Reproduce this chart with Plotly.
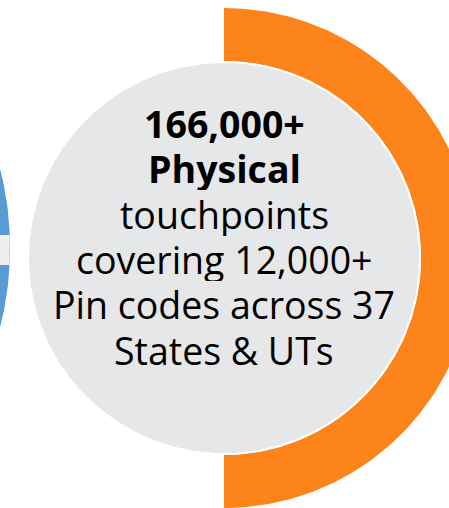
import numpy as np
import plotly.graph_objects as go

# ---- data ----
headline = ["166,000+", "Physical"]
body_lines = ["touchpoints", "covering 12,000+", "Pin codes across 37", "States & UTs"]
ring_share = [50]          # percent of the ring that is filled (orange)
ring_colors = ["#FD841A"]
W, H = 449, 508

# geometry (pixel space of the page)
cx, cy = 224, 258
r_in, r_out = 197, 250
circle_r = 196

fig = go.Figure()

# left partial blue ring (neighbouring graphic)
bcx, bcy, br = -315, 248, 325
t = np.linspace(-np.pi / 2, np.pi / 2, 200)
fig.add_trace(go.Scatter(x=bcx + br * np.cos(t), y=bcy + br * np.sin(t), fill="toself",
                         fillcolor="#5B9BD5", line=dict(width=0), mode="lines",
                         hoverinfo="skip", showlegend=False))
# grey connector bar inside blue
ys = np.array([235, 265])
xe = bcx + np.sqrt(br**2 - (ys - bcy) ** 2)
fig.add_trace(go.Scatter(x=[-5, xe[0], xe[1], -5], y=[235, 235, 265, 265], fill="toself",
                         fillcolor="#EFEFEF", line=dict(width=0), mode="lines",
                         hoverinfo="skip", showlegend=False))

# orange half ring from share value
span = ring_share[0] / 100 * 2 * np.pi
a = np.linspace(-np.pi / 2, -np.pi / 2 + span, 300)
xs = np.concatenate([cx + r_out * np.cos(a), cx + r_in * np.cos(a[::-1])])
yv = np.concatenate([cy + r_out * np.sin(a), cy + r_in * np.sin(a[::-1])])
fig.add_trace(go.Scatter(x=xs, y=yv, fill="toself", fillcolor=ring_colors[0],
                         line=dict(width=0), mode="lines", hoverinfo="skip", showlegend=False))

# grey centre circle
c = np.linspace(0, 2 * np.pi, 400)
fig.add_trace(go.Scatter(x=cx + circle_r * np.cos(c), y=cy + circle_r * np.sin(c), fill="toself",
                         fillcolor="#E6E7E8", line=dict(width=2, color="white"), mode="lines",
                         hoverinfo="skip", showlegend=False))

lines = ["<b>%s</b>" % s for s in headline] + body_lines
base0, step, fs = 135.5, 45.3, 37.5
for i, s in enumerate(lines):
    fig.add_annotation(x=cx, y=base0 + i * step - 0.33 * fs, xref="x", yref="y", text=s,
                       showarrow=False, xanchor="center", yanchor="middle", align="center",
                       valign="middle", height=44, borderpad=0,
                       font=dict(family="Open Sans", size=fs, color="#000000"))

fig.update_layout(width=W, height=H, margin=dict(l=0, r=0, t=0, b=0),
                  paper_bgcolor="white", plot_bgcolor="white",
                  xaxis=dict(range=[0, W], visible=False, fixedrange=True),
                  yaxis=dict(range=[H, 0], visible=False, fixedrange=True),
                  showlegend=False)
fig.write_html("out.html", config={"displayModeBar": False},
               post_script="document.body.style.margin='0';document.body.style.overflow='hidden';")
